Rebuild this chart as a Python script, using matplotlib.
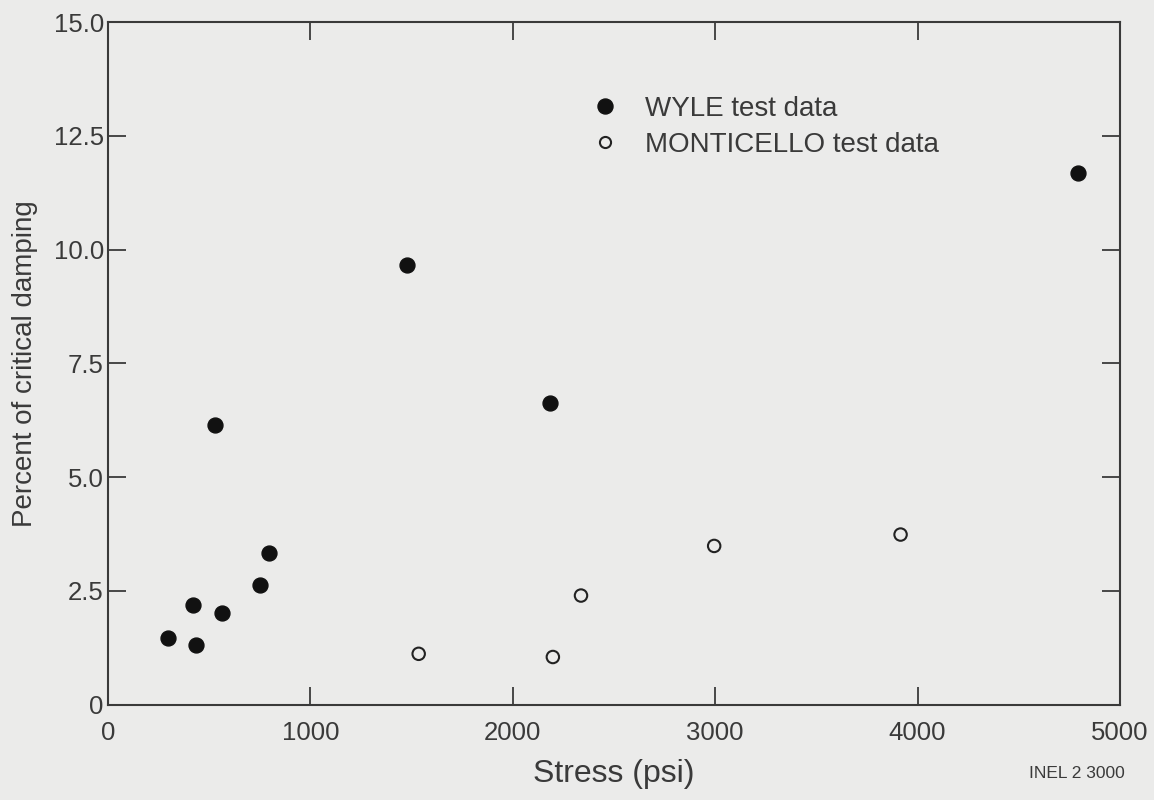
import matplotlib
matplotlib.use("Agg")
from matplotlib import pyplot as plt
from matplotlib.lines import Line2D

# WYLE test data (filled circles)
wyle_stress = [297, 421, 436, 564, 752, 797, 530, 1475, 2183, 4792]
wyle_damping = [1.47, 2.20, 1.32, 2.02, 2.64, 3.34, 6.15, 9.67, 6.64, 11.69]

# MONTICELLO test data (open circles)
mont_stress = [1535, 2198, 2337, 2995, 3916]
mont_damping = [1.12, 1.05, 2.40, 3.49, 3.74]

xticks = [0, 1000, 2000, 3000, 4000, 5000]
yticks = [0, 2.5, 5.0, 7.5, 10.0, 12.5, 15.0]
ytick_labels = ["0", "2.5", "5.0", "7.5", "10.0", "12.5", "15.0"]

plt.rcParams['font.family'] = ['Liberation Sans', 'DejaVu Sans']
bg = '#ebebea'
ink = '#3a3a3a'

fig = plt.figure(figsize=(11.54, 8), dpi=100, facecolor=bg)
ax = fig.add_axes([0.0936, 0.119, 0.8769, 0.8535])
ax.set_facecolor(bg)

ax.scatter(wyle_stress, wyle_damping, s=115, color='#111111', zorder=3)
ax.scatter(mont_stress, mont_damping, s=80, facecolor='none',
           edgecolor='#222222', linewidth=1.5, zorder=3)

ax.set_xlim(0, 5000)
ax.set_ylim(0, 15)
ax.set_xticks(xticks)
ax.set_xticklabels([str(v) for v in xticks])
ax.set_yticks(yticks)
ax.set_yticklabels(ytick_labels)
ax.tick_params(direction='in', length=13, width=1.3, color=ink,
               labelsize=18.5, labelcolor=ink, top=True, right=True)
ax.tick_params(axis='x', pad=12)
ax.tick_params(axis='y', pad=3)
for sp in ax.spines.values():
    sp.set_color(ink)
    sp.set_linewidth(1.5)

ax.set_xlabel("Stress (psi)", fontsize=23, color=ink, labelpad=10)
ax.set_ylabel("Percent of critical damping", fontsize=20, color=ink, labelpad=11)

handles = [
    Line2D([], [], marker='o', linestyle='none', markersize=10.8,
           markerfacecolor='#111111', markeredgecolor='#111111'),
    Line2D([], [], marker='o', linestyle='none', markersize=8,
           markerfacecolor='none', markeredgecolor='#222222', markeredgewidth=1.5),
]
ax.legend(handles, ["WYLE test data", "MONTICELLO test data"],
          loc='upper left', bbox_to_anchor=(0.4525, 0.928), frameon=False,
          fontsize=20, labelcolor=ink, handletextpad=0.94, labelspacing=0.34,
          handlelength=1.0)

fig.text(0.892, 0.028, "INEL 2 3000", fontsize=12.5, color=ink)

fig.savefig("out.png", dpi=100, facecolor=bg)
